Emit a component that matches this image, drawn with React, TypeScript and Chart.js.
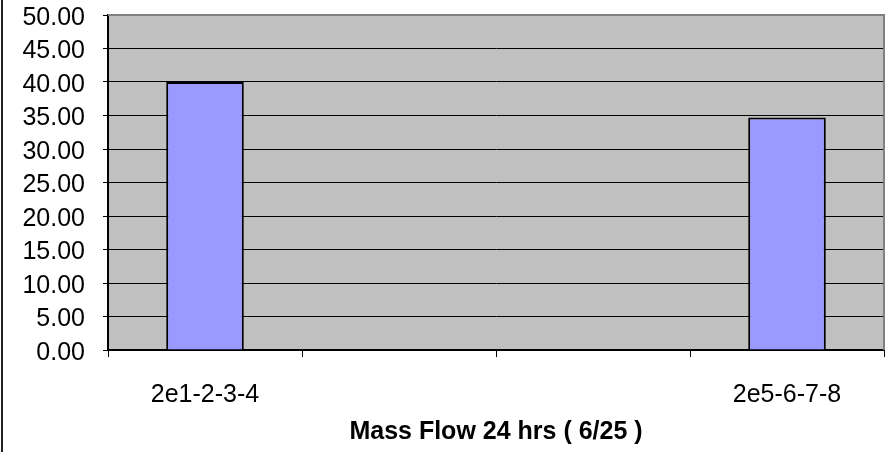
import React, { useEffect, useRef } from "react";
import { Chart, registerables } from "chart.js";

Chart.register(...registerables);

// Sample groups along the x axis (the middle two slots carry no data)
const categories: string[] = ["2e1-2-3-4", "", "", "2e5-6-7-8"];
// Mass flow per group
const massFlow: (number | null)[] = [40.0, null, null, 34.7];
// Value axis range
const yMin = 0;
const yMax = 50;
const yStep = 5;

const axisTitle = "Mass Flow 24 hrs ( 6/25 )";

const WIDTH = 891;
const HEIGHT = 452;
const FONT = "'Liberation Sans', Arial, sans-serif";

// Grey plot background plus the frame around the whole chart
const plotFrame = {
  id: "plotFrame",
  beforeDraw(chart: Chart) {
    const { ctx, chartArea } = chart;
    const { left, top, right, bottom } = chartArea;
    ctx.save();
    ctx.fillStyle = "#c0c0c0";
    ctx.fillRect(left, top, right - left, bottom - top);
    ctx.restore();
  },
  afterDraw(chart: Chart) {
    const { ctx, chartArea } = chart;
    const { left, top, right, bottom } = chartArea;
    ctx.save();
    // plot area border (top and right)
    ctx.strokeStyle = "#808080";
    ctx.lineWidth = 2;
    ctx.beginPath();
    ctx.moveTo(left, top);
    ctx.lineTo(right, top);
    ctx.lineTo(right, bottom);
    ctx.stroke();
    // outer chart border on the left edge
    ctx.fillStyle = "#222";
    ctx.fillRect(1, 0, 2, HEIGHT);
    ctx.restore();
  },
};

export default function App() {
  const canvasRef = useRef<HTMLCanvasElement | null>(null);

  useEffect(() => {
    const canvas = canvasRef.current;
    if (!canvas) return;
    const chart = new Chart(canvas, {
      type: "bar",
      data: {
        labels: categories,
        datasets: [
          {
            data: massFlow,
            backgroundColor: "#9999ff",
            borderColor: "#000000",
            borderWidth: 2,
            barPercentage: 0.4,
            categoryPercentage: 1,
          },
        ],
      },
      options: {
        responsive: false,
        animation: false,
        devicePixelRatio: 1,
        layout: { padding: { top: 15, right: 7, left: 0, bottom: 0 } },
        plugins: {
          legend: { display: false },
          tooltip: { enabled: false },
        },
        scales: {
          x: {
            offset: true,
            grid: {
              offset: true,
              drawOnChartArea: false,
              drawTicks: true,
              tickLength: 7,
              color: "#000",
              lineWidth: 1,
            },
            border: { color: "#000", width: 2 },
            ticks: {
              color: "#000",
              font: { family: FONT, size: 25 },
              padding: 23,
              maxRotation: 0,
              autoSkip: false,
            },
            title: {
              display: true,
              text: axisTitle,
              color: "#000",
              font: { family: FONT, size: 25, weight: "bold" },
              padding: { top: 5, bottom: 5 },
            },
            afterFit(scale: any) {
              scale.height = HEIGHT - 350;
              scale.paddingLeft = 0;
              scale.paddingRight = 0;
            },
          },
          y: {
            min: yMin,
            max: yMax,
            grid: {
              color: "#000",
              lineWidth: 1,
              tickLength: 5,
              drawTicks: true,
            },
            border: { color: "#000", width: 2 },
            ticks: {
              stepSize: yStep,
              autoSkip: false,
              color: "#000",
              font: { family: FONT, size: 25 },
              padding: 18,
              labelOffset: 3,
              callback: (v: any) => Number(v).toFixed(2),
            },
            afterFit(scale: any) {
              scale.width = 108;
              scale.paddingTop = 0;
              scale.paddingBottom = 0;
            },
          },
        },
      },
      plugins: [plotFrame],
    });
    return () => chart.destroy();
  }, []);

  return (
    <div style={{ position: "absolute", left: 0, top: 0, width: WIDTH, height: HEIGHT, background: "#fff" }}>
      <canvas ref={canvasRef} width={WIDTH} height={HEIGHT} style={{ display: "block" }} />
    </div>
  );
}
